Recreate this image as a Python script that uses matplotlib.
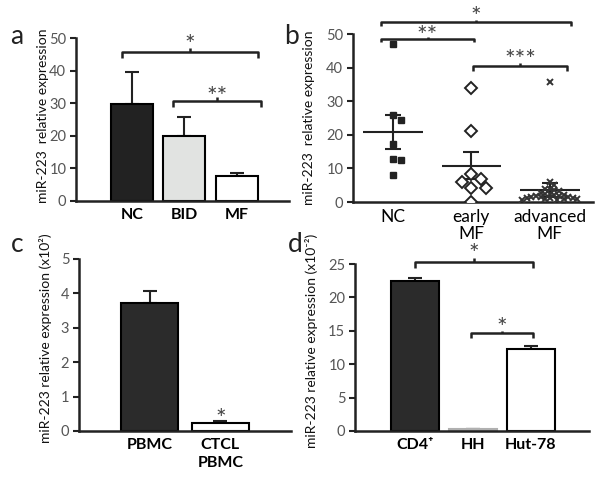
import matplotlib
matplotlib.use('Agg')
import matplotlib.pyplot as plt
import matplotlib.transforms as mtransforms
import numpy as np

plt.rcParams['font.family'] = ['Lato', 'DejaVu Sans']

# panel a
a_groups = ['NC', 'BID', 'MF']
a_means = [29.8, 20.0, 7.7]
a_err = [9.9, 5.8, 1.0]
a_colors = ['#222222', '#e1e3e1', 'white']

# panel b (individual samples, mean and SEM)
b_groups = ['NC', 'early\nMF', 'advanced\nMF']
b_nc = [46.9, 26.0, 24.3, 17.3, 12.7, 12.5, 7.9]
b_early = [33.9, 21.0, 8.4, 6.8, 6.1, 4.3, 4.3, 0.1]
b_adv = [35.6, 6.1, 5.1, 4.0, 3.8, 3.5, 3.3, 2.8, 2.5, 2.3, 2.2, 2.0,
         1.9, 1.8, 1.6, 1.5, 1.4, 1.3, 1.2, 1.1, 1.0, 0.9, 0.8, 0.7, 0.6]
b_mean = [20.9, 10.8, 3.6]
b_sem = [5.1, 4.0, 2.0]

# panel c
c_groups = ['PBMC', 'CTCL\nPBMC']
c_means = [3.71, 0.23]
c_err = [0.37, 0.05]
c_colors = ['#2b2b2b', 'white']

# panel d
d_groups = ['CD4\u207a', 'HH', 'Hut-78']
d_means = [22.5, 0.3, 12.35]
d_err = [0.35, 0.0, 0.35]
d_colors = ['#2b2b2b', '#b0b0b0', 'white']
d_edges = ['black', '#b0b0b0', 'black']

W, H = 601, 478
YLAB = 10
STAR = 18


def px_axes(fig, left, right, top, bottom):
    return fig.add_axes([left / W, (H - bottom) / H, (right - left) / W, (bottom - top) / H])


def style(ax, xsize=11.5):
    for s in ['top', 'right']:
        ax.spines[s].set_visible(False)
    for s in ['left', 'bottom']:
        ax.spines[s].set_linewidth(1.8)
        ax.spines[s].set_color('#222222')
    ax.tick_params(axis='x', length=0, pad=5, labelsize=xsize)
    ax.tick_params(axis='y', direction='out', length=4, width=1.5, labelsize=10.5,
                   labelcolor='#555555', color='#222222', pad=3)


def bars(ax, means, errs, colors, width, edges=None):
    x = np.arange(len(means))
    if edges is None:
        edges = 'black'
    ax.bar(x, means, width=width, color=colors, edgecolor=edges, linewidth=1.5, zorder=2)
    ax.errorbar(x, means, yerr=[np.zeros(len(errs)), errs], fmt='none', ecolor='#222222',
                elinewidth=1.5, capsize=5, capthick=1.5, zorder=1)


def star(ax, x, y, stars, above_px):
    # asterisk glyph centre sits ~0.58 em above the baseline
    lift = 0.58 * STAR * 100 / 72
    tr = mtransforms.offset_copy(ax.transData, fig=ax.figure, y=above_px - lift, units='dots')
    ax.text(x, y, stars, transform=tr, ha='center', va='baseline', fontsize=STAR,
            color='#444444', clip_on=False)


def bracket(ax, x1, x2, y, drop, stars, above_px):
    kw = dict(color='#222222', lw=1.8, clip_on=False, solid_capstyle='butt')
    ax.plot([x1, x1, x2, x2], [y - drop, y, y, y - drop], **kw)
    mid = (x1 + x2) / 2
    ax.plot([mid, mid], [y, y + drop * 0.6], **kw)
    star(ax, mid, y, stars, above_px)


def swarm(values, d_px, py, px):
    # simple beeswarm: place points one by one at the nearest free x offset
    placed = []
    offs = []
    step = d_px / 2
    for v in values:
        y = v * py
        i = 0
        while True:
            k = (i + 1) // 2 * (1 if i % 2 else -1)
            cx = k * step
            if all((cx - ox) ** 2 + (y - oy) ** 2 >= d_px ** 2 for ox, oy in placed):
                break
            i += 1
        placed.append((cx, y))
        offs.append(cx / px)
    return np.array(offs)


fig = plt.figure(figsize=(W / 100, H / 100), dpi=100)

# ---- a ----
ax = px_axes(fig, 76, 289, 38, 201)
bars(ax, a_means, a_err, a_colors, 0.8)
ax.set_xlim(-1.07, 3.0)
ax.set_ylim(0, 50)
ax.set_yticks(range(0, 51, 10))
ax.set_xticks(range(3))
ax.set_xticklabels(a_groups, fontweight='bold')
style(ax)
ax.set_ylabel('miR-223  relative expression', fontsize=YLAB, color='#111111')
ax.yaxis.set_label_coords(-0.127, 0.52)
bracket(ax, -0.19, 2.4, 45.7, 1.8, '*', 14)
bracket(ax, 0.78, 2.46, 30.7, 1.8, '**', 10.5)

# ---- b ----
ax = px_axes(fig, 353, 593, 34, 202)
py, pxu = 168 / 50, 78.5
groups_pts = [b_nc, b_early, b_adv]
marks = [dict(marker='s', ms=5, color='#222222', mfc='#222222', mew=1),
         dict(marker='D', ms=6, color='#222222', mfc='white', mew=1.4),
         dict(marker='x', ms=4.5, color='#333333', mew=1.4)]
sizes = [8, 9.5, 4.6]
for i, (vals, mk, d) in enumerate(zip(groups_pts, marks, sizes)):
    offs = swarm(vals, d, py, pxu)
    ax.plot(i + offs, vals, ls='none', zorder=3, **mk)
    ax.hlines(b_mean[i], i - 0.38, i + 0.38, color='#222222', lw=1.5, zorder=2)
    ax.errorbar(i, b_mean[i], yerr=b_sem[i], fmt='none', ecolor='#222222',
                elinewidth=1.5, capsize=5.5, capthick=1.5, zorder=2)
ax.set_xlim(-0.51, 2.55)
ax.set_ylim(0, 50)
ax.set_yticks(range(0, 51, 10))
ax.set_xticks(range(3))
ax.set_xticklabels(b_groups, linespacing=1.1)
style(ax, xsize=12.5)
ax.set_ylabel('miR-223  relative expression', fontsize=YLAB, color='#111111')
ax.yaxis.set_label_coords(-0.158, 0.5)
bracket(ax, -0.15, 2.27, 53.5, 1.0, '*', 12)
bracket(ax, -0.15, 1.03, 48.6, 1.0, '**', 9)
bracket(ax, 1.02, 2.22, 40.4, 1.5, '***', 13)

# ---- c ----
ax = px_axes(fig, 79, 291, 259, 431)
bars(ax, c_means, c_err, c_colors, 0.8)
ax.set_xlim(-1.0, 2.0)
ax.set_ylim(0, 5)
ax.set_yticks(range(0, 6))
ax.set_xticks(range(2))
ax.set_xticklabels(c_groups, fontweight='bold', linespacing=1.4)
style(ax)
ax.set_ylabel('miR-223 relative expression (x10\u00b2)', fontsize=YLAB, color='#111111')
ax.yaxis.set_label_coords(-0.127, 0.54)
star(ax, 1, c_means[1] + c_err[1], '*', 9)

# ---- d ----
ax = px_axes(fig, 355, 589, 264, 431)
bars(ax, d_means, d_err, d_colors, 0.83, edges=d_edges)
ax.set_xlim(-1.03, 3.0)
ax.set_ylim(0, 25)
ax.set_yticks(range(0, 26, 5))
ax.set_xticks(range(3))
ax.set_xticklabels(d_groups, fontweight='bold')
style(ax)
ax.set_ylabel('miR-223 relative expression (x10\u207b\u00b2)', fontsize=YLAB, color='#111111')
ax.yaxis.set_label_coords(-0.16, 0.54)
bracket(ax, 0.0, 2.04, 25.3, 0.9, '*', 14)
bracket(ax, 0.97, 2.04, 14.6, 0.7, '*', 12)

# panel letters
for lbl, x, y in [('a', 17, 36), ('b', 292, 36), ('c', 17, 244), ('d', 295, 244)]:
    fig.text(x / W, 1 - y / H, lbl, fontsize=19, ha='center', va='center', color='#222222')

fig.savefig('out.png', dpi=100)
